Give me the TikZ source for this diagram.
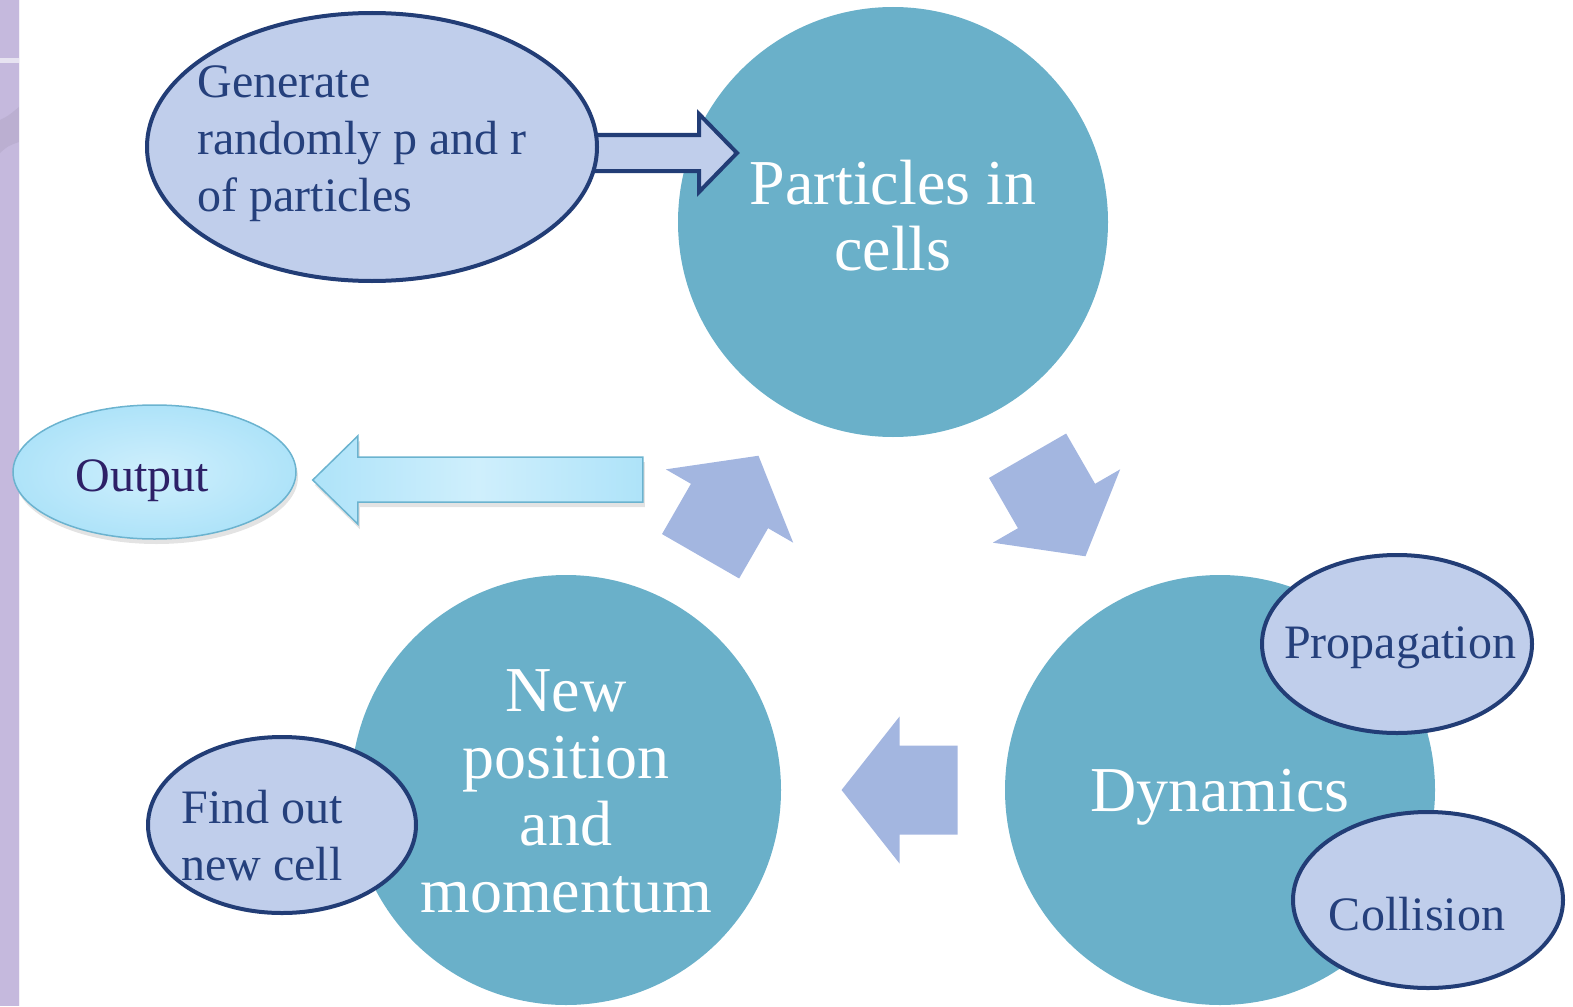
\documentclass[tikz,border=0pt]{standalone}
\usepackage{fontspec}
\setmainfont{Liberation Serif}
\usepackage{tikz}
\usetikzlibrary{calc,shapes.geometric,shadows,positioning}
\definecolor{strip}{HTML}{C5B9DD}
\definecolor{cellteal}{HTML}{6AB0C9}
\definecolor{pale}{HTML}{C0CEEB}
\definecolor{navy}{HTML}{223D76}
\definecolor{ink}{HTML}{25407C}
\definecolor{cyc}{HTML}{A3B6E0}
\definecolor{sky}{HTML}{AEE3F9}
\definecolor{skylight}{HTML}{CFEFFC}
\definecolor{skyline}{HTML}{6BB3CF}
\definecolor{plum}{HTML}{2D2067}
\newcommand\pptstrut{\rule[-0.216em]{0pt}{1.107em}}

\begin{document}
\begin{tikzpicture}[x=1pt,y=-1pt,
  stage/.style={circle,fill=cellteal,minimum size=430pt,inner sep=0pt,text=white,align=center,
    font=\fontsize{64}{66}\selectfont,execute at begin node=\pptstrut,execute at end node=\pptstrut},
  bubble/.style={ellipse,fill=pale,draw=navy,line width=4pt,inner sep=0pt},
  bubbletext/.style={text=ink,align=left,font=\fontsize{48}{57}\selectfont,
    execute at begin node=\pptstrut,execute at end node=\pptstrut},
  cycarrow/.style={fill=cyc},
  skyshadow/.style={drop shadow={opacity=0.22,shadow xshift=2pt,shadow yshift=-5pt}}]
  \useasboundingbox (0,0) rectangle (1573,1006);
  % slide border on the left
  \fill[strip] (0,0) rectangle (19,1006);
  \fill[white,opacity=0.6] (0,58) rectangle (19,63);
  \fill[strip!80!black,opacity=0.25] (0,120) .. controls (8,116) .. (19,107) -- (19,142) .. controls (8,146) .. (0,153) -- cycle;
  \draw[white!80!strip,line width=1pt] (19.5,0) -- (19.5,1006);

  % the three stages
  \node[stage] (cells) at (893,222) {Particles in\\cells};
  \node[stage] (dyn) at (1220,790) {Dynamics};
  \node[stage,font=\fontsize{64}{67}\selectfont] (newpos) at (566,790)
    {\pptstrut New\\position\\and\\momentum};

  % cycle arrows between the stages
  \foreach \a/\b/\f in {dyn/newpos/0.49,newpos/cells/0.5,cells/dyn/0.5}{
    \coordinate (m) at ($(\a)!\f!(\b)$);
    \coordinate (t) at ($(m)!-58pt!(\b)$);
    \fill[cycarrow] ($(m)!58pt!(\b)$) -- ($(m)!73.5pt!90:(\b)$) -- ($(m)!44.5pt!90:(\b)$)
      -- ($(t)!44.5pt!90:(\b)$) -- ($(t)!44.5pt!-90:(\b)$) -- ($(m)!44.5pt!-90:(\b)$)
      -- ($(m)!73.5pt!-90:(\b)$) -- cycle;
  }

  % initial step
  \coordinate (genpos) at (372,147);
  \filldraw[fill=pale,draw=navy,line width=4pt,line join=miter] ($(genpos)+(205,-12)$) -- ++(122,0) -- ++(0,-21)
    -- ++(38,39) -- ++(-38,39) -- ++(0,-21) -- ++(-122,0) -- cycle;
  \node[bubble,minimum width=450pt,minimum height=268pt,
    label={[bubbletext,xshift=-10pt,yshift=3pt]center:Generate\\randomly p and r\\of particles}] (gen) at (genpos) {};

  % sub-steps
  \node[bubble,minimum width=270pt,minimum height=178pt,
    label={[bubbletext,xshift=3pt,yshift=2pt]center:Propagation}] (prop) at (1397,644) {};
  \node[bubble,minimum width=270pt,minimum height=176pt,
    label={[bubbletext,xshift=-11pt,yshift=-14pt]center:Collision}] (coll) at (1428,900) {};
  \node[bubble,minimum width=268pt,minimum height=176pt,
    label={[bubbletext,xshift=-20pt,yshift=-16pt]center:Find out\\new cell}] (find) at (282,825) {};

  % output
  \node[ellipse,minimum width=283pt,minimum height=134pt,inner sep=0pt,draw=skyline,line width=1.5pt,
    inner color=skylight,outer color=sky,skyshadow,
    label={[bubbletext,text=plum,xshift=-12pt,yshift=-3pt]center:Output}] (out) at (154.5,472) {};
  \draw[draw=skyline,line width=1.5pt,left color=sky,right color=sky,middle color=skylight,skyshadow]
    ($(out.east)+(16,8)$) -- ++(45,-44) -- ++(0,21) -- ++(285,0) -- ++(0,45) -- ++(-285,0) -- ++(0,22) -- cycle;
\end{tikzpicture}
\end{document}
